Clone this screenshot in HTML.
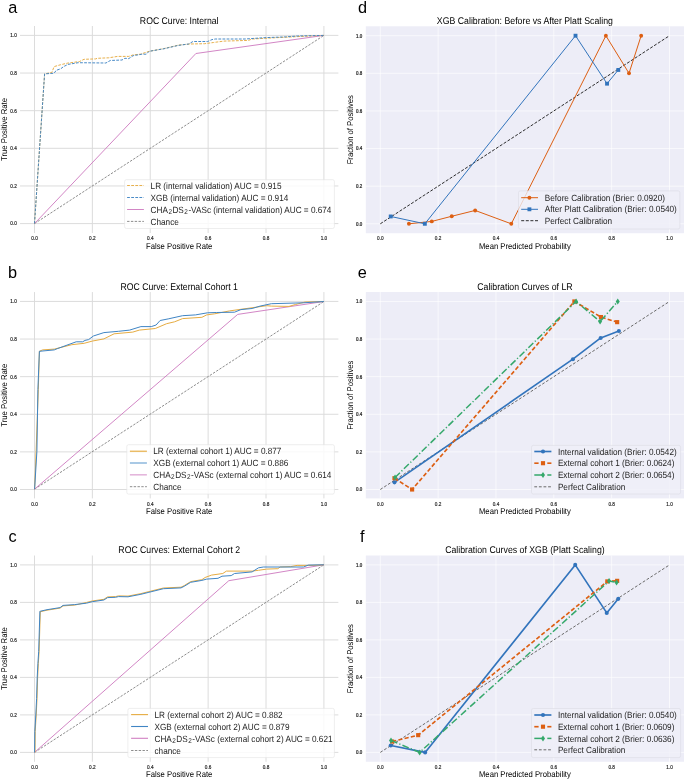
<!DOCTYPE html>
<html><head><meta charset="utf-8"><title>ROC and Calibration Curves</title>
<style>html,body{margin:0;padding:0;background:#fff;width:685px;height:780px;overflow:hidden}svg{display:block;filter:blur(0.35px)}</style>
</head><body>
<svg width="685" height="780" viewBox="0 0 685 780" font-family='"Liberation Sans", sans-serif'>
<rect width="685" height="780" fill="#ffffff"/>
<text x="8.2" y="13.0" font-size="16.3" fill="#000">a</text>
<text x="8.0" y="278.1" font-size="16.3" fill="#000">b</text>
<text x="8.4" y="542.0" font-size="16.3" fill="#000">c</text>
<text x="357.9" y="12.6" font-size="16.3" fill="#000">d</text>
<text x="357.8" y="278.4" font-size="16.3" fill="#000">e</text>
<text x="360.1" y="542.0" font-size="16.3" fill="#000">f</text>
<line x1="34.50" y1="25.99" x2="34.50" y2="233.01" stroke="#dadada" stroke-width="0.95"/>
<line x1="20.03" y1="223.60" x2="338.37" y2="223.60" stroke="#dadada" stroke-width="0.95"/>
<line x1="92.38" y1="25.99" x2="92.38" y2="233.01" stroke="#dadada" stroke-width="0.95"/>
<line x1="20.03" y1="185.96" x2="338.37" y2="185.96" stroke="#dadada" stroke-width="0.95"/>
<line x1="150.26" y1="25.99" x2="150.26" y2="233.01" stroke="#dadada" stroke-width="0.95"/>
<line x1="20.03" y1="148.32" x2="338.37" y2="148.32" stroke="#dadada" stroke-width="0.95"/>
<line x1="208.14" y1="25.99" x2="208.14" y2="233.01" stroke="#dadada" stroke-width="0.95"/>
<line x1="20.03" y1="110.68" x2="338.37" y2="110.68" stroke="#dadada" stroke-width="0.95"/>
<line x1="266.02" y1="25.99" x2="266.02" y2="233.01" stroke="#dadada" stroke-width="0.95"/>
<line x1="20.03" y1="73.04" x2="338.37" y2="73.04" stroke="#dadada" stroke-width="0.95"/>
<line x1="323.90" y1="25.99" x2="323.90" y2="233.01" stroke="#dadada" stroke-width="0.95"/>
<line x1="20.03" y1="35.40" x2="338.37" y2="35.40" stroke="#dadada" stroke-width="0.95"/>
<text transform="translate(34.50 240.00) scale(1 1.1)" font-size="4.7" text-anchor="middle" fill="#1a1a1a" stroke="#1a1a1a" stroke-width="0.15">0.0</text>
<text transform="translate(16.83 225.00) scale(1 1.1)" font-size="4.7" text-anchor="end" fill="#1a1a1a" stroke="#1a1a1a" stroke-width="0.15">0.0</text>
<text transform="translate(92.38 240.00) scale(1 1.1)" font-size="4.7" text-anchor="middle" fill="#1a1a1a" stroke="#1a1a1a" stroke-width="0.15">0.2</text>
<text transform="translate(16.83 188.00) scale(1 1.1)" font-size="4.7" text-anchor="end" fill="#1a1a1a" stroke="#1a1a1a" stroke-width="0.15">0.2</text>
<text transform="translate(150.26 240.00) scale(1 1.1)" font-size="4.7" text-anchor="middle" fill="#1a1a1a" stroke="#1a1a1a" stroke-width="0.15">0.4</text>
<text transform="translate(16.83 150.00) scale(1 1.1)" font-size="4.7" text-anchor="end" fill="#1a1a1a" stroke="#1a1a1a" stroke-width="0.15">0.4</text>
<text transform="translate(208.14 240.00) scale(1 1.1)" font-size="4.7" text-anchor="middle" fill="#1a1a1a" stroke="#1a1a1a" stroke-width="0.15">0.6</text>
<text transform="translate(16.83 113.00) scale(1 1.1)" font-size="4.7" text-anchor="end" fill="#1a1a1a" stroke="#1a1a1a" stroke-width="0.15">0.6</text>
<text transform="translate(266.02 240.00) scale(1 1.1)" font-size="4.7" text-anchor="middle" fill="#1a1a1a" stroke="#1a1a1a" stroke-width="0.15">0.8</text>
<text transform="translate(16.83 75.00) scale(1 1.1)" font-size="4.7" text-anchor="end" fill="#1a1a1a" stroke="#1a1a1a" stroke-width="0.15">0.8</text>
<text transform="translate(323.90 240.00) scale(1 1.1)" font-size="4.7" text-anchor="middle" fill="#1a1a1a" stroke="#1a1a1a" stroke-width="0.15">1.0</text>
<text transform="translate(16.83 37.00) scale(1 1.1)" font-size="4.7" text-anchor="end" fill="#1a1a1a" stroke="#1a1a1a" stroke-width="0.15">1.0</text>
<text transform="translate(179.20 24.00) scale(1 1.12)" font-size="8.7" text-anchor="middle" fill="#000" style="text-rendering:geometricPrecision">ROC Curve: Internal</text>
<text transform="translate(179.20 249.00) scale(1 1.1)" font-size="7.7" text-anchor="middle" fill="#000" style="text-rendering:geometricPrecision">False Positive Rate</text>
<text transform="translate(7.00 129.50) rotate(-90) scale(1 1.1)" font-size="7.7" text-anchor="middle" fill="#000" style="text-rendering:geometricPrecision">True Positive Rate</text>
<polyline points="34.50,223.60 323.90,35.40" fill="none" stroke="#808080" stroke-width="0.9" stroke-linejoin="round" stroke-dasharray="2.4,1.4"/>
<polyline points="34.50,223.60 195.90,53.50 323.90,35.40" fill="none" stroke="#D07FC2" stroke-width="0.95" stroke-linejoin="round"/>
<polyline points="34.50,223.60 38.50,164.00 44.60,73.90 51.90,72.40 54.10,66.60 60.70,64.70 67.20,63.20 79.60,61.50 84.00,59.30 95.70,58.90 97.20,58.30 108.80,57.80 117.60,56.40 128.80,56.40 133.10,54.90 140.40,54.20 149.20,51.30 163.80,48.60 178.40,45.10 190.10,44.00 204.70,43.70 213.40,42.50 224.00,41.10 248.50,40.40 252.00,39.00 283.60,37.30 311.60,35.90 323.90,35.40" fill="none" stroke="#E6AC42" stroke-width="0.95" stroke-linejoin="round" stroke-dasharray="2.8,1.3"/>
<polyline points="34.50,223.60 38.50,164.00 44.60,73.90 54.10,73.20 56.30,70.30 60.70,68.80 63.60,66.60 68.00,64.40 78.20,62.70 105.90,63.00 110.30,60.50 122.00,60.00 124.90,58.30 128.80,58.60 133.10,55.70 141.90,54.20 146.30,54.20 149.20,51.30 163.80,48.80 178.40,45.40 188.60,44.00 193.00,41.50 207.60,41.50 212.00,39.60 215.30,39.00 245.00,39.00 266.00,37.60 285.30,36.90 297.60,36.00 323.90,35.40" fill="none" stroke="#4085C4" stroke-width="0.95" stroke-linejoin="round" stroke-dasharray="2.8,1.3"/>
<rect x="124.60" y="179.70" width="209.80" height="48.80" rx="1.8" fill="#ffffff" fill-opacity="0.82" stroke="#e2e2e2" stroke-width="0.6"/>
<polyline points="127.10,185.50 143.90,185.50" fill="none" stroke="#E6AC42" stroke-width="0.95" stroke-linejoin="round" stroke-dasharray="2.8,1.3"/>
<polyline points="127.10,197.50 143.90,197.50" fill="none" stroke="#4085C4" stroke-width="0.95" stroke-linejoin="round" stroke-dasharray="2.8,1.3"/>
<polyline points="127.10,209.50 143.90,209.50" fill="none" stroke="#D07FC2" stroke-width="0.95" stroke-linejoin="round"/>
<polyline points="127.10,221.40 143.90,221.40" fill="none" stroke="#808080" stroke-width="0.9" stroke-linejoin="round" stroke-dasharray="2.4,1.4"/>
<text transform="translate(150.60 189.00) scale(1 1.1)" font-size="8.2" fill="#1e1e1e" style="text-rendering:geometricPrecision">LR (internal validation) AUC = 0.915</text>
<text transform="translate(150.60 201.00) scale(1 1.1)" font-size="8.2" fill="#1e1e1e" style="text-rendering:geometricPrecision">XGB (internal validation) AUC = 0.914</text>
<text transform="translate(150.60 213.00) scale(1 1.1)" font-size="8.2" fill="#1e1e1e" style="text-rendering:geometricPrecision">CHA<tspan font-size="6.4" dy="1.0" dx="0.5">2</tspan><tspan dy="-1.0" dx="0.5">DS</tspan><tspan font-size="6.4" dy="1.0" dx="0.5">2</tspan><tspan dy="-1.0" dx="0.5">-VASc (internal validation) AUC = 0.674</tspan></text>
<text transform="translate(150.60 225.00) scale(1 1.1)" font-size="8.2" fill="#1e1e1e" style="text-rendering:geometricPrecision">Chance</text>
<line x1="34.50" y1="292.05" x2="34.50" y2="498.40" stroke="#dadada" stroke-width="0.95"/>
<line x1="20.03" y1="489.50" x2="338.37" y2="489.50" stroke="#dadada" stroke-width="0.95"/>
<line x1="92.38" y1="292.05" x2="92.38" y2="498.40" stroke="#dadada" stroke-width="0.95"/>
<line x1="20.03" y1="451.89" x2="338.37" y2="451.89" stroke="#dadada" stroke-width="0.95"/>
<line x1="150.26" y1="292.05" x2="150.26" y2="498.40" stroke="#dadada" stroke-width="0.95"/>
<line x1="20.03" y1="414.28" x2="338.37" y2="414.28" stroke="#dadada" stroke-width="0.95"/>
<line x1="208.14" y1="292.05" x2="208.14" y2="498.40" stroke="#dadada" stroke-width="0.95"/>
<line x1="20.03" y1="376.67" x2="338.37" y2="376.67" stroke="#dadada" stroke-width="0.95"/>
<line x1="266.02" y1="292.05" x2="266.02" y2="498.40" stroke="#dadada" stroke-width="0.95"/>
<line x1="20.03" y1="339.06" x2="338.37" y2="339.06" stroke="#dadada" stroke-width="0.95"/>
<line x1="323.90" y1="292.05" x2="323.90" y2="498.40" stroke="#dadada" stroke-width="0.95"/>
<line x1="20.03" y1="301.45" x2="338.37" y2="301.45" stroke="#dadada" stroke-width="0.95"/>
<text transform="translate(34.50 506.00) scale(1 1.1)" font-size="4.7" text-anchor="middle" fill="#1a1a1a" stroke="#1a1a1a" stroke-width="0.15">0.0</text>
<text transform="translate(16.83 491.00) scale(1 1.1)" font-size="4.7" text-anchor="end" fill="#1a1a1a" stroke="#1a1a1a" stroke-width="0.15">0.0</text>
<text transform="translate(92.38 506.00) scale(1 1.1)" font-size="4.7" text-anchor="middle" fill="#1a1a1a" stroke="#1a1a1a" stroke-width="0.15">0.2</text>
<text transform="translate(16.83 454.00) scale(1 1.1)" font-size="4.7" text-anchor="end" fill="#1a1a1a" stroke="#1a1a1a" stroke-width="0.15">0.2</text>
<text transform="translate(150.26 506.00) scale(1 1.1)" font-size="4.7" text-anchor="middle" fill="#1a1a1a" stroke="#1a1a1a" stroke-width="0.15">0.4</text>
<text transform="translate(16.83 416.00) scale(1 1.1)" font-size="4.7" text-anchor="end" fill="#1a1a1a" stroke="#1a1a1a" stroke-width="0.15">0.4</text>
<text transform="translate(208.14 506.00) scale(1 1.1)" font-size="4.7" text-anchor="middle" fill="#1a1a1a" stroke="#1a1a1a" stroke-width="0.15">0.6</text>
<text transform="translate(16.83 379.00) scale(1 1.1)" font-size="4.7" text-anchor="end" fill="#1a1a1a" stroke="#1a1a1a" stroke-width="0.15">0.6</text>
<text transform="translate(266.02 506.00) scale(1 1.1)" font-size="4.7" text-anchor="middle" fill="#1a1a1a" stroke="#1a1a1a" stroke-width="0.15">0.8</text>
<text transform="translate(16.83 341.00) scale(1 1.1)" font-size="4.7" text-anchor="end" fill="#1a1a1a" stroke="#1a1a1a" stroke-width="0.15">0.8</text>
<text transform="translate(323.90 506.00) scale(1 1.1)" font-size="4.7" text-anchor="middle" fill="#1a1a1a" stroke="#1a1a1a" stroke-width="0.15">1.0</text>
<text transform="translate(16.83 303.00) scale(1 1.1)" font-size="4.7" text-anchor="end" fill="#1a1a1a" stroke="#1a1a1a" stroke-width="0.15">1.0</text>
<text transform="translate(179.20 290.00) scale(1 1.12)" font-size="8.7" text-anchor="middle" fill="#000" style="text-rendering:geometricPrecision">ROC Curve: External Cohort 1</text>
<text transform="translate(179.20 514.00) scale(1 1.1)" font-size="7.7" text-anchor="middle" fill="#000" style="text-rendering:geometricPrecision">False Positive Rate</text>
<text transform="translate(7.00 395.23) rotate(-90) scale(1 1.1)" font-size="7.7" text-anchor="middle" fill="#000" style="text-rendering:geometricPrecision">True Positive Rate</text>
<polyline points="34.50,489.20 323.90,301.50" fill="none" stroke="#808080" stroke-width="0.9" stroke-linejoin="round" stroke-dasharray="2.4,1.4"/>
<polyline points="34.50,489.20 237.70,314.40 323.90,301.50" fill="none" stroke="#D07FC2" stroke-width="0.95" stroke-linejoin="round"/>
<polyline points="34.60,489.20 35.60,465.00 38.30,389.70 39.40,351.30 42.60,349.90 54.30,349.10 71.80,344.70 84.20,343.30 92.20,341.10 103.90,338.90 114.10,333.80 132.80,332.10 139.30,330.10 155.30,328.50 166.60,323.70 174.60,321.80 182.60,318.60 201.90,317.30 206.70,314.90 214.70,313.80 229.60,310.90 240.90,309.30 255.30,307.30 266.60,305.70 271.40,306.10 289.00,306.40 295.50,304.50 305.10,302.00 323.90,301.50" fill="none" stroke="#E6AC42" stroke-width="1.0" stroke-linejoin="round"/>
<polyline points="34.60,489.20 36.90,451.30 37.90,389.70 39.40,351.30 54.30,349.90 57.20,348.70 76.20,341.80 82.70,341.80 85.00,340.40 88.60,339.60 93.40,336.00 103.90,332.60 118.50,331.30 129.60,330.10 140.90,326.60 151.30,326.60 156.10,325.00 160.10,320.50 168.20,318.90 182.60,315.70 195.50,314.90 207.50,312.80 216.40,312.50 234.50,312.20 240.90,309.60 252.10,308.50 260.10,306.10 271.40,303.70 303.50,302.80 323.90,301.50" fill="none" stroke="#4085C4" stroke-width="1.0" stroke-linejoin="round"/>
<rect x="126.80" y="444.70" width="207.60" height="49.40" rx="1.8" fill="#ffffff" fill-opacity="0.82" stroke="#e2e2e2" stroke-width="0.6"/>
<polyline points="129.90,451.30 146.90,451.30" fill="none" stroke="#E6AC42" stroke-width="1.5" stroke-linejoin="round" stroke-opacity="0.8"/>
<polyline points="129.90,463.00 146.90,463.00" fill="none" stroke="#4085C4" stroke-width="1.5" stroke-linejoin="round" stroke-opacity="0.6"/>
<polyline points="129.90,474.80 146.90,474.80" fill="none" stroke="#D07FC2" stroke-width="1.5" stroke-linejoin="round" stroke-opacity="0.6"/>
<polyline points="129.90,486.70 146.90,486.70" fill="none" stroke="#808080" stroke-width="0.9" stroke-linejoin="round" stroke-dasharray="2.4,1.4"/>
<text transform="translate(153.30 454.00) scale(1 1.1)" font-size="8.2" fill="#1e1e1e" style="text-rendering:geometricPrecision">LR (external cohort 1) AUC = 0.877</text>
<text transform="translate(153.30 466.00) scale(1 1.1)" font-size="8.2" fill="#1e1e1e" style="text-rendering:geometricPrecision">XGB (external cohort 1) AUC = 0.886</text>
<text transform="translate(153.30 478.00) scale(1 1.1)" font-size="8.2" fill="#1e1e1e" style="text-rendering:geometricPrecision">CHA<tspan font-size="6.4" dy="1.0" dx="0.5">2</tspan><tspan dy="-1.0" dx="0.5">DS</tspan><tspan font-size="6.4" dy="1.0" dx="0.5">2</tspan><tspan dy="-1.0" dx="0.5">-VASc (external cohort 1) AUC = 0.614</tspan></text>
<text transform="translate(153.30 490.00) scale(1 1.1)" font-size="8.2" fill="#1e1e1e" style="text-rendering:geometricPrecision">Chance</text>
<line x1="34.50" y1="555.52" x2="34.50" y2="761.77" stroke="#dadada" stroke-width="0.95"/>
<line x1="20.03" y1="752.40" x2="338.37" y2="752.40" stroke="#dadada" stroke-width="0.95"/>
<line x1="92.38" y1="555.52" x2="92.38" y2="761.77" stroke="#dadada" stroke-width="0.95"/>
<line x1="20.03" y1="714.90" x2="338.37" y2="714.90" stroke="#dadada" stroke-width="0.95"/>
<line x1="150.26" y1="555.52" x2="150.26" y2="761.77" stroke="#dadada" stroke-width="0.95"/>
<line x1="20.03" y1="677.40" x2="338.37" y2="677.40" stroke="#dadada" stroke-width="0.95"/>
<line x1="208.14" y1="555.52" x2="208.14" y2="761.77" stroke="#dadada" stroke-width="0.95"/>
<line x1="20.03" y1="639.90" x2="338.37" y2="639.90" stroke="#dadada" stroke-width="0.95"/>
<line x1="266.02" y1="555.52" x2="266.02" y2="761.77" stroke="#dadada" stroke-width="0.95"/>
<line x1="20.03" y1="602.40" x2="338.37" y2="602.40" stroke="#dadada" stroke-width="0.95"/>
<line x1="323.90" y1="555.52" x2="323.90" y2="761.77" stroke="#dadada" stroke-width="0.95"/>
<line x1="20.03" y1="564.90" x2="338.37" y2="564.90" stroke="#dadada" stroke-width="0.95"/>
<text transform="translate(34.50 769.00) scale(1 1.1)" font-size="4.7" text-anchor="middle" fill="#1a1a1a" stroke="#1a1a1a" stroke-width="0.15">0.0</text>
<text transform="translate(16.83 754.00) scale(1 1.1)" font-size="4.7" text-anchor="end" fill="#1a1a1a" stroke="#1a1a1a" stroke-width="0.15">0.0</text>
<text transform="translate(92.38 769.00) scale(1 1.1)" font-size="4.7" text-anchor="middle" fill="#1a1a1a" stroke="#1a1a1a" stroke-width="0.15">0.2</text>
<text transform="translate(16.83 717.00) scale(1 1.1)" font-size="4.7" text-anchor="end" fill="#1a1a1a" stroke="#1a1a1a" stroke-width="0.15">0.2</text>
<text transform="translate(150.26 769.00) scale(1 1.1)" font-size="4.7" text-anchor="middle" fill="#1a1a1a" stroke="#1a1a1a" stroke-width="0.15">0.4</text>
<text transform="translate(16.83 679.00) scale(1 1.1)" font-size="4.7" text-anchor="end" fill="#1a1a1a" stroke="#1a1a1a" stroke-width="0.15">0.4</text>
<text transform="translate(208.14 769.00) scale(1 1.1)" font-size="4.7" text-anchor="middle" fill="#1a1a1a" stroke="#1a1a1a" stroke-width="0.15">0.6</text>
<text transform="translate(16.83 642.00) scale(1 1.1)" font-size="4.7" text-anchor="end" fill="#1a1a1a" stroke="#1a1a1a" stroke-width="0.15">0.6</text>
<text transform="translate(266.02 769.00) scale(1 1.1)" font-size="4.7" text-anchor="middle" fill="#1a1a1a" stroke="#1a1a1a" stroke-width="0.15">0.8</text>
<text transform="translate(16.83 604.00) scale(1 1.1)" font-size="4.7" text-anchor="end" fill="#1a1a1a" stroke="#1a1a1a" stroke-width="0.15">0.8</text>
<text transform="translate(323.90 769.00) scale(1 1.1)" font-size="4.7" text-anchor="middle" fill="#1a1a1a" stroke="#1a1a1a" stroke-width="0.15">1.0</text>
<text transform="translate(16.83 567.00) scale(1 1.1)" font-size="4.7" text-anchor="end" fill="#1a1a1a" stroke="#1a1a1a" stroke-width="0.15">1.0</text>
<text transform="translate(179.20 553.00) scale(1 1.12)" font-size="8.7" text-anchor="middle" fill="#000" style="text-rendering:geometricPrecision">ROC Curves: External Cohort 2</text>
<text transform="translate(179.20 777.00) scale(1 1.1)" font-size="7.7" text-anchor="middle" fill="#000" style="text-rendering:geometricPrecision">False Positive Rate</text>
<text transform="translate(7.00 658.65) rotate(-90) scale(1 1.1)" font-size="7.7" text-anchor="middle" fill="#000" style="text-rendering:geometricPrecision">True Positive Rate</text>
<polyline points="34.50,752.40 323.90,564.80" fill="none" stroke="#808080" stroke-width="0.9" stroke-linejoin="round" stroke-dasharray="2.4,1.4"/>
<polyline points="34.50,752.40 228.80,580.70 323.90,564.80" fill="none" stroke="#D07FC2" stroke-width="0.95" stroke-linejoin="round"/>
<polyline points="35.00,752.40 35.20,731.50 36.20,715.00 37.00,698.60 37.60,678.00 38.30,663.70 39.10,651.40 40.30,611.30 40.40,611.70 47.00,610.20 60.10,608.10 63.00,605.90 74.70,605.10 86.40,602.50 92.20,601.00 103.90,599.30 107.60,596.90 115.60,596.60 118.50,595.90 128.00,596.10 140.90,593.60 148.90,591.60 163.40,588.00 181.00,587.20 184.20,585.60 190.70,581.60 201.90,579.70 205.10,577.50 211.50,575.10 222.80,573.50 226.40,571.10 252.10,571.10 258.50,570.30 266.60,569.10 277.80,568.70 280.20,567.00 290.70,566.60 297.10,565.40 313.10,565.40 323.90,564.80" fill="none" stroke="#E6AC42" stroke-width="1.0" stroke-linejoin="round"/>
<polyline points="34.60,752.40 34.80,731.50 35.80,715.00 36.60,698.60 37.20,678.00 37.90,663.70 38.70,651.40 39.90,611.30 40.40,611.20 47.00,609.70 60.10,607.60 63.00,605.40 74.70,604.60 86.40,603.20 92.20,601.70 103.90,600.00 107.60,597.60 115.60,597.30 118.50,596.60 128.00,596.80 140.90,594.30 148.90,592.30 163.40,588.70 181.00,587.90 184.20,586.30 190.70,582.30 201.90,580.40 206.70,579.10 218.00,578.30 222.00,576.20 231.20,575.60 234.50,573.50 252.10,571.90 258.50,567.80 263.40,567.00 303.50,567.00 308.30,565.10 323.90,564.80" fill="none" stroke="#4085C4" stroke-width="1.0" stroke-linejoin="round"/>
<rect x="127.90" y="708.40" width="206.50" height="49.20" rx="1.8" fill="#ffffff" fill-opacity="0.82" stroke="#e2e2e2" stroke-width="0.6"/>
<polyline points="131.10,714.60 148.00,714.60" fill="none" stroke="#E6AC42" stroke-width="1.1" stroke-linejoin="round"/>
<polyline points="131.10,726.50 148.00,726.50" fill="none" stroke="#4085C4" stroke-width="1.1" stroke-linejoin="round"/>
<polyline points="131.10,738.30 148.00,738.30" fill="none" stroke="#D07FC2" stroke-width="1.1" stroke-linejoin="round"/>
<polyline points="131.10,750.50 148.00,750.50" fill="none" stroke="#808080" stroke-width="0.9" stroke-linejoin="round" stroke-dasharray="2.4,1.4"/>
<text transform="translate(154.50 718.00) scale(1 1.1)" font-size="8.2" fill="#1e1e1e" style="text-rendering:geometricPrecision">LR (external cohort 2) AUC = 0.882</text>
<text transform="translate(154.50 730.00) scale(1 1.1)" font-size="8.2" fill="#1e1e1e" style="text-rendering:geometricPrecision">XGB (external cohort 2) AUC = 0.879</text>
<text transform="translate(154.50 742.00) scale(1 1.1)" font-size="8.2" fill="#1e1e1e" style="text-rendering:geometricPrecision">CHA<tspan font-size="6.4" dy="1.0" dx="0.5">2</tspan><tspan dy="-1.0" dx="0.5">DS</tspan><tspan font-size="6.4" dy="1.0" dx="0.5">2</tspan><tspan dy="-1.0" dx="0.5">-VASc (external cohort 2) AUC = 0.621</tspan></text>
<text transform="translate(154.50 754.00) scale(1 1.1)" font-size="8.2" fill="#1e1e1e" style="text-rendering:geometricPrecision">chance</text>
<rect x="365.84" y="26.30" width="318.12" height="206.91" fill="#EDEDF7"/>
<line x1="380.30" y1="26.30" x2="380.30" y2="233.21" stroke="#ffffff" stroke-width="0.65"/>
<line x1="365.84" y1="223.80" x2="683.96" y2="223.80" stroke="#ffffff" stroke-width="0.65"/>
<line x1="438.14" y1="26.30" x2="438.14" y2="233.21" stroke="#ffffff" stroke-width="0.65"/>
<line x1="365.84" y1="186.18" x2="683.96" y2="186.18" stroke="#ffffff" stroke-width="0.65"/>
<line x1="495.98" y1="26.30" x2="495.98" y2="233.21" stroke="#ffffff" stroke-width="0.65"/>
<line x1="365.84" y1="148.56" x2="683.96" y2="148.56" stroke="#ffffff" stroke-width="0.65"/>
<line x1="553.82" y1="26.30" x2="553.82" y2="233.21" stroke="#ffffff" stroke-width="0.65"/>
<line x1="365.84" y1="110.94" x2="683.96" y2="110.94" stroke="#ffffff" stroke-width="0.65"/>
<line x1="611.66" y1="26.30" x2="611.66" y2="233.21" stroke="#ffffff" stroke-width="0.65"/>
<line x1="365.84" y1="73.32" x2="683.96" y2="73.32" stroke="#ffffff" stroke-width="0.65"/>
<line x1="669.50" y1="26.30" x2="669.50" y2="233.21" stroke="#ffffff" stroke-width="0.65"/>
<line x1="365.84" y1="35.70" x2="683.96" y2="35.70" stroke="#ffffff" stroke-width="0.65"/>
<text transform="translate(380.30 240.00) scale(1 1.1)" font-size="4.7" text-anchor="middle" fill="#222" stroke="#222" stroke-width="0.15">0.0</text>
<text transform="translate(362.34 226.00) scale(1 1.1)" font-size="4.5" text-anchor="end" fill="#222" stroke="#222" stroke-width="0.2">0.0</text>
<text transform="translate(438.14 240.00) scale(1 1.1)" font-size="4.7" text-anchor="middle" fill="#222" stroke="#222" stroke-width="0.15">0.2</text>
<text transform="translate(362.34 188.00) scale(1 1.1)" font-size="4.5" text-anchor="end" fill="#222" stroke="#222" stroke-width="0.2">0.2</text>
<text transform="translate(495.98 240.00) scale(1 1.1)" font-size="4.7" text-anchor="middle" fill="#222" stroke="#222" stroke-width="0.15">0.4</text>
<text transform="translate(362.34 150.00) scale(1 1.1)" font-size="4.5" text-anchor="end" fill="#222" stroke="#222" stroke-width="0.2">0.4</text>
<text transform="translate(553.82 240.00) scale(1 1.1)" font-size="4.7" text-anchor="middle" fill="#222" stroke="#222" stroke-width="0.15">0.6</text>
<text transform="translate(362.34 113.00) scale(1 1.1)" font-size="4.5" text-anchor="end" fill="#222" stroke="#222" stroke-width="0.2">0.6</text>
<text transform="translate(611.66 240.00) scale(1 1.1)" font-size="4.7" text-anchor="middle" fill="#222" stroke="#222" stroke-width="0.15">0.8</text>
<text transform="translate(362.34 75.00) scale(1 1.1)" font-size="4.5" text-anchor="end" fill="#222" stroke="#222" stroke-width="0.2">0.8</text>
<text transform="translate(669.50 240.00) scale(1 1.1)" font-size="4.7" text-anchor="middle" fill="#222" stroke="#222" stroke-width="0.15">1.0</text>
<text transform="translate(362.34 38.00) scale(1 1.1)" font-size="4.5" text-anchor="end" fill="#222" stroke="#222" stroke-width="0.2">1.0</text>
<text transform="translate(524.90 24.00) scale(1 1.12)" font-size="8.75" text-anchor="middle" fill="#000" style="text-rendering:geometricPrecision">XGB Calibration: Before vs After Platt Scaling</text>
<text transform="translate(524.90 249.00) scale(1 1.1)" font-size="7.7" text-anchor="middle" fill="#000" style="text-rendering:geometricPrecision">Mean Predicted Probability</text>
<text transform="translate(353.00 129.75) rotate(-90) scale(1 1.1)" font-size="7.7" text-anchor="middle" fill="#000" style="text-rendering:geometricPrecision">Fraction of Positives</text>
<polyline points="380.30,223.80 669.50,35.70" fill="none" stroke="#222222" stroke-width="0.95" stroke-linejoin="round" stroke-dasharray="3,1.6"/>
<polyline points="408.93,223.80 431.78,221.41 451.73,216.28 475.16,210.44 511.31,223.80 605.88,35.70 629.01,73.32 641.16,35.70" fill="none" stroke="#DD5F12" stroke-width="1.0" stroke-linejoin="round"/>
<circle cx="408.93" cy="223.80" r="1.95" fill="#DD5F12"/>
<circle cx="431.78" cy="221.41" r="1.95" fill="#DD5F12"/>
<circle cx="451.73" cy="216.28" r="1.95" fill="#DD5F12"/>
<circle cx="475.16" cy="210.44" r="1.95" fill="#DD5F12"/>
<circle cx="511.31" cy="223.80" r="1.95" fill="#DD5F12"/>
<circle cx="605.88" cy="35.70" r="1.95" fill="#DD5F12"/>
<circle cx="629.01" cy="73.32" r="1.95" fill="#DD5F12"/>
<circle cx="641.16" cy="35.70" r="1.95" fill="#DD5F12"/>
<polyline points="390.71,216.46 424.84,223.80 575.51,35.70 607.03,83.67 618.31,69.93" fill="none" stroke="#3274BC" stroke-width="1.0" stroke-linejoin="round"/>
<rect x="388.78" y="214.53" width="3.87" height="3.87" fill="#3274BC"/>
<rect x="422.90" y="221.87" width="3.87" height="3.87" fill="#3274BC"/>
<rect x="573.58" y="33.76" width="3.87" height="3.87" fill="#3274BC"/>
<rect x="605.10" y="81.73" width="3.87" height="3.87" fill="#3274BC"/>
<rect x="616.38" y="68.00" width="3.87" height="3.87" fill="#3274BC"/>
<rect x="518.50" y="190.90" width="161.40" height="38.10" rx="1.8" fill="#EFEFF7" fill-opacity="0.8" stroke="#dcdce4" stroke-width="0.6"/>
<polyline points="521.20,197.70 538.00,197.70" fill="none" stroke="#DD5F12" stroke-width="1.0" stroke-linejoin="round"/>
<circle cx="529.40" cy="197.70" r="1.95" fill="#DD5F12"/>
<polyline points="521.20,209.30 538.00,209.30" fill="none" stroke="#3274BC" stroke-width="1.0" stroke-linejoin="round"/>
<rect x="527.47" y="207.37" width="3.87" height="3.87" fill="#3274BC"/>
<polyline points="521.20,220.70 538.00,220.70" fill="none" stroke="#222222" stroke-width="0.95" stroke-linejoin="round" stroke-dasharray="3,1.6"/>
<text transform="translate(544.80 201.00) scale(1 1.1)" font-size="8.2" fill="#1e1e1e" style="text-rendering:geometricPrecision">Before Calibration (Brier: 0.0920)</text>
<text transform="translate(544.80 212.00) scale(1 1.1)" font-size="8.2" fill="#1e1e1e" style="text-rendering:geometricPrecision">After Platt Calibration (Brier: 0.0540)</text>
<text transform="translate(544.80 224.00) scale(1 1.1)" font-size="8.2" fill="#1e1e1e" style="text-rendering:geometricPrecision">Perfect Calibration</text>
<rect x="365.84" y="292.05" width="318.12" height="206.35" fill="#EDEDF7"/>
<line x1="380.30" y1="292.05" x2="380.30" y2="498.40" stroke="#ffffff" stroke-width="0.65"/>
<line x1="365.84" y1="489.50" x2="683.96" y2="489.50" stroke="#ffffff" stroke-width="0.65"/>
<line x1="438.14" y1="292.05" x2="438.14" y2="498.40" stroke="#ffffff" stroke-width="0.65"/>
<line x1="365.84" y1="451.89" x2="683.96" y2="451.89" stroke="#ffffff" stroke-width="0.65"/>
<line x1="495.98" y1="292.05" x2="495.98" y2="498.40" stroke="#ffffff" stroke-width="0.65"/>
<line x1="365.84" y1="414.28" x2="683.96" y2="414.28" stroke="#ffffff" stroke-width="0.65"/>
<line x1="553.82" y1="292.05" x2="553.82" y2="498.40" stroke="#ffffff" stroke-width="0.65"/>
<line x1="365.84" y1="376.67" x2="683.96" y2="376.67" stroke="#ffffff" stroke-width="0.65"/>
<line x1="611.66" y1="292.05" x2="611.66" y2="498.40" stroke="#ffffff" stroke-width="0.65"/>
<line x1="365.84" y1="339.06" x2="683.96" y2="339.06" stroke="#ffffff" stroke-width="0.65"/>
<line x1="669.50" y1="292.05" x2="669.50" y2="498.40" stroke="#ffffff" stroke-width="0.65"/>
<line x1="365.84" y1="301.45" x2="683.96" y2="301.45" stroke="#ffffff" stroke-width="0.65"/>
<text transform="translate(380.30 506.00) scale(1 1.1)" font-size="4.7" text-anchor="middle" fill="#222" stroke="#222" stroke-width="0.15">0.0</text>
<text transform="translate(362.34 491.00) scale(1 1.1)" font-size="4.5" text-anchor="end" fill="#222" stroke="#222" stroke-width="0.2">0.0</text>
<text transform="translate(438.14 506.00) scale(1 1.1)" font-size="4.7" text-anchor="middle" fill="#222" stroke="#222" stroke-width="0.15">0.2</text>
<text transform="translate(362.34 454.00) scale(1 1.1)" font-size="4.5" text-anchor="end" fill="#222" stroke="#222" stroke-width="0.2">0.2</text>
<text transform="translate(495.98 506.00) scale(1 1.1)" font-size="4.7" text-anchor="middle" fill="#222" stroke="#222" stroke-width="0.15">0.4</text>
<text transform="translate(362.34 416.00) scale(1 1.1)" font-size="4.5" text-anchor="end" fill="#222" stroke="#222" stroke-width="0.2">0.4</text>
<text transform="translate(553.82 506.00) scale(1 1.1)" font-size="4.7" text-anchor="middle" fill="#222" stroke="#222" stroke-width="0.15">0.6</text>
<text transform="translate(362.34 379.00) scale(1 1.1)" font-size="4.5" text-anchor="end" fill="#222" stroke="#222" stroke-width="0.2">0.6</text>
<text transform="translate(611.66 506.00) scale(1 1.1)" font-size="4.7" text-anchor="middle" fill="#222" stroke="#222" stroke-width="0.15">0.8</text>
<text transform="translate(362.34 341.00) scale(1 1.1)" font-size="4.5" text-anchor="end" fill="#222" stroke="#222" stroke-width="0.2">0.8</text>
<text transform="translate(669.50 506.00) scale(1 1.1)" font-size="4.7" text-anchor="middle" fill="#222" stroke="#222" stroke-width="0.15">1.0</text>
<text transform="translate(362.34 303.00) scale(1 1.1)" font-size="4.5" text-anchor="end" fill="#222" stroke="#222" stroke-width="0.2">1.0</text>
<text transform="translate(524.90 290.00) scale(1 1.12)" font-size="8.75" text-anchor="middle" fill="#000" style="text-rendering:geometricPrecision">Calibration Curves of LR</text>
<text transform="translate(524.90 514.00) scale(1 1.1)" font-size="7.7" text-anchor="middle" fill="#000" style="text-rendering:geometricPrecision">Mean Predicted Probability</text>
<text transform="translate(353.00 395.23) rotate(-90) scale(1 1.1)" font-size="7.7" text-anchor="middle" fill="#000" style="text-rendering:geometricPrecision">Fraction of Positives</text>
<polyline points="380.30,489.50 669.50,301.45" fill="none" stroke="#6a6a6a" stroke-width="1.0" stroke-linejoin="round" stroke-dasharray="2.8,1.8"/>
<polyline points="394.47,482.35 572.91,359.18 600.67,337.93 618.89,330.97" fill="none" stroke="#3274BC" stroke-width="1.65" stroke-linejoin="round"/>
<circle cx="394.47" cy="482.35" r="2.05" fill="#3274BC"/>
<circle cx="572.91" cy="359.18" r="2.05" fill="#3274BC"/>
<circle cx="600.67" cy="337.93" r="2.05" fill="#3274BC"/>
<circle cx="618.89" cy="330.97" r="2.05" fill="#3274BC"/>
<polyline points="394.47,478.22 412.11,489.50 574.35,301.45 600.96,317.06 617.15,322.14" fill="none" stroke="#DD5F12" stroke-width="1.65" stroke-linejoin="round" stroke-dasharray="4.2,2.2"/>
<rect x="392.40" y="476.15" width="4.14" height="4.14" fill="#DD5F12"/>
<rect x="410.04" y="487.43" width="4.14" height="4.14" fill="#DD5F12"/>
<rect x="572.28" y="299.38" width="4.14" height="4.14" fill="#DD5F12"/>
<rect x="598.89" y="314.99" width="4.14" height="4.14" fill="#DD5F12"/>
<rect x="615.08" y="320.07" width="4.14" height="4.14" fill="#DD5F12"/>
<polyline points="395.05,477.46 576.09,301.45 600.09,321.57 617.73,301.45" fill="none" stroke="#35A86B" stroke-width="1.5" stroke-linejoin="round" stroke-dasharray="6.8,2.2,1.2,2.2"/>
<polygon points="395.05,474.49 397.07,477.46 395.05,480.44 393.03,477.46" fill="#35A86B"/>
<polygon points="576.09,298.47 578.10,301.45 576.09,304.43 574.07,301.45" fill="#35A86B"/>
<polygon points="600.09,318.60 602.11,321.57 600.09,324.55 598.08,321.57" fill="#35A86B"/>
<polygon points="617.73,298.47 619.75,301.45 617.73,304.43 615.72,301.45" fill="#35A86B"/>
<rect x="531.50" y="445.40" width="149.10" height="48.60" rx="1.8" fill="#EFEFF7" fill-opacity="0.8" stroke="#dcdce4" stroke-width="0.6"/>
<polyline points="534.30,451.50 551.40,451.50" fill="none" stroke="#3274BC" stroke-width="1.65" stroke-linejoin="round"/>
<circle cx="543.00" cy="451.50" r="2.05" fill="#3274BC"/>
<polyline points="534.30,463.20 538.60,463.20" fill="none" stroke="#DD5F12" stroke-width="1.65" stroke-linejoin="round"/>
<polyline points="547.30,463.20 551.40,463.20" fill="none" stroke="#DD5F12" stroke-width="1.65" stroke-linejoin="round"/>
<rect x="540.93" y="461.13" width="4.14" height="4.14" fill="#DD5F12"/>
<polyline points="534.30,475.00 543.80,475.00" fill="none" stroke="#35A86B" stroke-width="1.5" stroke-linejoin="round"/>
<polyline points="547.30,475.00 551.40,475.00" fill="none" stroke="#35A86B" stroke-width="1.5" stroke-linejoin="round"/>
<polygon points="543.00,472.02 545.02,475.00 543.00,477.98 540.98,475.00" fill="#35A86B"/>
<polyline points="534.30,486.80 551.40,486.80" fill="none" stroke="#6a6a6a" stroke-width="1.0" stroke-linejoin="round" stroke-dasharray="2.8,1.8"/>
<text transform="translate(557.90 455.00) scale(1 1.1)" font-size="8.2" fill="#1e1e1e" style="text-rendering:geometricPrecision">Internal validation (Brier: 0.0542)</text>
<text transform="translate(557.90 466.00) scale(1 1.1)" font-size="8.2" fill="#1e1e1e" style="text-rendering:geometricPrecision">External cohort 1 (Brier: 0.0624)</text>
<text transform="translate(557.90 478.00) scale(1 1.1)" font-size="8.2" fill="#1e1e1e" style="text-rendering:geometricPrecision">External cohort 2 (Brier: 0.0654)</text>
<text transform="translate(557.90 490.00) scale(1 1.1)" font-size="8.2" fill="#1e1e1e" style="text-rendering:geometricPrecision">Perfect Calibration</text>
<rect x="365.84" y="555.52" width="318.12" height="206.25" fill="#EDEDF7"/>
<line x1="380.30" y1="555.52" x2="380.30" y2="761.77" stroke="#ffffff" stroke-width="0.65"/>
<line x1="365.84" y1="752.40" x2="683.96" y2="752.40" stroke="#ffffff" stroke-width="0.65"/>
<line x1="438.14" y1="555.52" x2="438.14" y2="761.77" stroke="#ffffff" stroke-width="0.65"/>
<line x1="365.84" y1="714.90" x2="683.96" y2="714.90" stroke="#ffffff" stroke-width="0.65"/>
<line x1="495.98" y1="555.52" x2="495.98" y2="761.77" stroke="#ffffff" stroke-width="0.65"/>
<line x1="365.84" y1="677.40" x2="683.96" y2="677.40" stroke="#ffffff" stroke-width="0.65"/>
<line x1="553.82" y1="555.52" x2="553.82" y2="761.77" stroke="#ffffff" stroke-width="0.65"/>
<line x1="365.84" y1="639.90" x2="683.96" y2="639.90" stroke="#ffffff" stroke-width="0.65"/>
<line x1="611.66" y1="555.52" x2="611.66" y2="761.77" stroke="#ffffff" stroke-width="0.65"/>
<line x1="365.84" y1="602.40" x2="683.96" y2="602.40" stroke="#ffffff" stroke-width="0.65"/>
<line x1="669.50" y1="555.52" x2="669.50" y2="761.77" stroke="#ffffff" stroke-width="0.65"/>
<line x1="365.84" y1="564.90" x2="683.96" y2="564.90" stroke="#ffffff" stroke-width="0.65"/>
<text transform="translate(380.30 769.00) scale(1 1.1)" font-size="4.7" text-anchor="middle" fill="#222" stroke="#222" stroke-width="0.15">0.0</text>
<text transform="translate(362.34 754.00) scale(1 1.1)" font-size="4.5" text-anchor="end" fill="#222" stroke="#222" stroke-width="0.2">0.0</text>
<text transform="translate(438.14 769.00) scale(1 1.1)" font-size="4.7" text-anchor="middle" fill="#222" stroke="#222" stroke-width="0.15">0.2</text>
<text transform="translate(362.34 717.00) scale(1 1.1)" font-size="4.5" text-anchor="end" fill="#222" stroke="#222" stroke-width="0.2">0.2</text>
<text transform="translate(495.98 769.00) scale(1 1.1)" font-size="4.7" text-anchor="middle" fill="#222" stroke="#222" stroke-width="0.15">0.4</text>
<text transform="translate(362.34 679.00) scale(1 1.1)" font-size="4.5" text-anchor="end" fill="#222" stroke="#222" stroke-width="0.2">0.4</text>
<text transform="translate(553.82 769.00) scale(1 1.1)" font-size="4.7" text-anchor="middle" fill="#222" stroke="#222" stroke-width="0.15">0.6</text>
<text transform="translate(362.34 642.00) scale(1 1.1)" font-size="4.5" text-anchor="end" fill="#222" stroke="#222" stroke-width="0.2">0.6</text>
<text transform="translate(611.66 769.00) scale(1 1.1)" font-size="4.7" text-anchor="middle" fill="#222" stroke="#222" stroke-width="0.15">0.8</text>
<text transform="translate(362.34 604.00) scale(1 1.1)" font-size="4.5" text-anchor="end" fill="#222" stroke="#222" stroke-width="0.2">0.8</text>
<text transform="translate(669.50 769.00) scale(1 1.1)" font-size="4.7" text-anchor="middle" fill="#222" stroke="#222" stroke-width="0.15">1.0</text>
<text transform="translate(362.34 567.00) scale(1 1.1)" font-size="4.5" text-anchor="end" fill="#222" stroke="#222" stroke-width="0.2">1.0</text>
<text transform="translate(524.90 553.00) scale(1 1.12)" font-size="8.75" text-anchor="middle" fill="#000" style="text-rendering:geometricPrecision">Calibration Curves of XGB (Platt Scaling)</text>
<text transform="translate(524.90 777.00) scale(1 1.1)" font-size="7.7" text-anchor="middle" fill="#000" style="text-rendering:geometricPrecision">Mean Predicted Probability</text>
<text transform="translate(353.00 658.65) rotate(-90) scale(1 1.1)" font-size="7.7" text-anchor="middle" fill="#000" style="text-rendering:geometricPrecision">Fraction of Positives</text>
<polyline points="380.30,752.40 669.50,564.90" fill="none" stroke="#6a6a6a" stroke-width="1.0" stroke-linejoin="round" stroke-dasharray="2.8,1.8"/>
<polyline points="390.71,745.46 425.13,752.40 575.22,564.90 606.74,612.90 618.31,598.84" fill="none" stroke="#3274BC" stroke-width="1.65" stroke-linejoin="round"/>
<circle cx="390.71" cy="745.46" r="2.05" fill="#3274BC"/>
<circle cx="425.13" cy="752.40" r="2.05" fill="#3274BC"/>
<circle cx="575.22" cy="564.90" r="2.05" fill="#3274BC"/>
<circle cx="606.74" cy="612.90" r="2.05" fill="#3274BC"/>
<circle cx="618.31" cy="598.84" r="2.05" fill="#3274BC"/>
<polyline points="392.16,741.52 418.19,735.15 607.32,581.40 617.15,580.84" fill="none" stroke="#DD5F12" stroke-width="1.65" stroke-linejoin="round" stroke-dasharray="4.2,2.2"/>
<rect x="390.09" y="739.45" width="4.14" height="4.14" fill="#DD5F12"/>
<rect x="416.12" y="733.08" width="4.14" height="4.14" fill="#DD5F12"/>
<rect x="605.25" y="579.33" width="4.14" height="4.14" fill="#DD5F12"/>
<rect x="615.08" y="578.77" width="4.14" height="4.14" fill="#DD5F12"/>
<polyline points="391.00,740.40 419.63,752.40 609.06,581.02 616.58,582.52" fill="none" stroke="#35A86B" stroke-width="1.5" stroke-linejoin="round" stroke-dasharray="6.8,2.2,1.2,2.2"/>
<polygon points="391.00,737.42 393.02,740.40 391.00,743.38 388.98,740.40" fill="#35A86B"/>
<polygon points="419.63,749.42 421.65,752.40 419.63,755.38 417.62,752.40" fill="#35A86B"/>
<polygon points="609.06,578.05 611.07,581.02 609.06,584.00 607.04,581.02" fill="#35A86B"/>
<polygon points="616.58,579.55 618.59,582.52 616.58,585.50 614.56,582.52" fill="#35A86B"/>
<rect x="531.50" y="708.50" width="149.10" height="49.10" rx="1.8" fill="#EFEFF7" fill-opacity="0.8" stroke="#dcdce4" stroke-width="0.6"/>
<polyline points="534.30,715.00 551.40,715.00" fill="none" stroke="#3274BC" stroke-width="1.65" stroke-linejoin="round"/>
<circle cx="543.00" cy="715.00" r="2.05" fill="#3274BC"/>
<polyline points="534.30,726.70 538.60,726.70" fill="none" stroke="#DD5F12" stroke-width="1.65" stroke-linejoin="round"/>
<polyline points="547.30,726.70 551.40,726.70" fill="none" stroke="#DD5F12" stroke-width="1.65" stroke-linejoin="round"/>
<rect x="540.93" y="724.63" width="4.14" height="4.14" fill="#DD5F12"/>
<polyline points="534.30,738.40 543.80,738.40" fill="none" stroke="#35A86B" stroke-width="1.5" stroke-linejoin="round"/>
<polyline points="547.30,738.40 551.40,738.40" fill="none" stroke="#35A86B" stroke-width="1.5" stroke-linejoin="round"/>
<polygon points="543.00,735.42 545.02,738.40 543.00,741.38 540.98,738.40" fill="#35A86B"/>
<polyline points="534.30,749.80 551.40,749.80" fill="none" stroke="#6a6a6a" stroke-width="1.0" stroke-linejoin="round" stroke-dasharray="2.8,1.8"/>
<text transform="translate(557.90 718.00) scale(1 1.1)" font-size="8.2" fill="#1e1e1e" style="text-rendering:geometricPrecision">Internal validation (Brier: 0.0540)</text>
<text transform="translate(557.90 730.00) scale(1 1.1)" font-size="8.2" fill="#1e1e1e" style="text-rendering:geometricPrecision">External cohort 1 (Brier: 0.0609)</text>
<text transform="translate(557.90 742.00) scale(1 1.1)" font-size="8.2" fill="#1e1e1e" style="text-rendering:geometricPrecision">External cohort 2 (Brier: 0.0636)</text>
<text transform="translate(557.90 753.00) scale(1 1.1)" font-size="8.2" fill="#1e1e1e" style="text-rendering:geometricPrecision">Perfect Calibration</text>
</svg>
</body></html>
